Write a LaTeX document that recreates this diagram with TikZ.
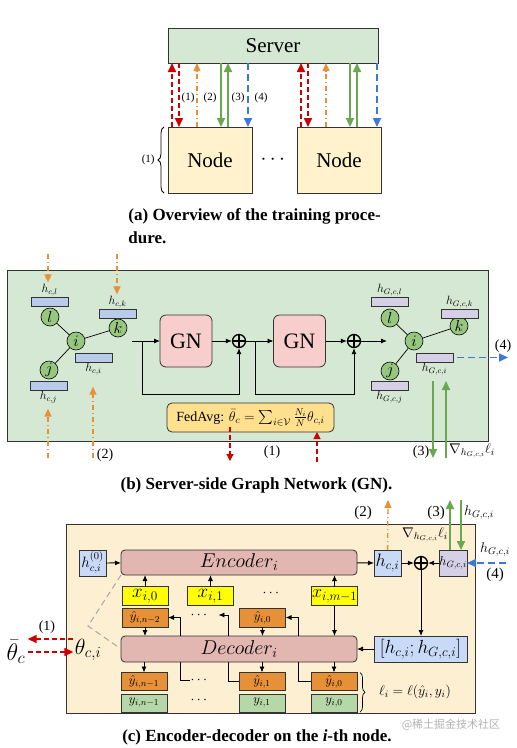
\RequirePackage{fix-cm}
\documentclass[tikz,border=0pt]{standalone}
\usepackage{amsmath}
\usepackage{amssymb}
\usepackage{fontspec}
\newfontfamily\timesf{Liberation Serif}
\newfontfamily\cjkf{Noto Sans CJK SC}
\usepackage{tikz}
\usetikzlibrary{calc, arrows.meta, positioning, decorations.pathreplacing}

\definecolor{srvgreen}{HTML}{D5E8D4}
\definecolor{nodeyel}{HTML}{FFF2CC}
\definecolor{gnpink}{HTML}{F8CECC}
\definecolor{fedyel}{HTML}{FFE08F}
\definecolor{circgreen}{HTML}{97C77E}
\definecolor{hblue}{HTML}{B9CBEB}
\definecolor{hlav}{HTML}{D6D0E6}
\definecolor{edbg}{HTML}{FDF0D2}
\definecolor{edpink}{HTML}{E2B6B1}
\definecolor{boxblue}{HTML}{C9DAF8}
\definecolor{xyel}{HTML}{FFFF00}
\definecolor{yhor}{HTML}{E69138}
\definecolor{ygr}{HTML}{B6D7A8}
\definecolor{myred}{HTML}{CC0000}
\definecolor{myor}{HTML}{E69138}
\definecolor{mygr}{HTML}{6AA84F}
\definecolor{myblue}{HTML}{3C78D8}

\newcommand{\fsz}[1]{\fontsize{#1}{#1}\selectfont}

\begin{document}
\begin{tikzpicture}[x=1pt, y=-1pt, >={Latex[length=6pt,width=5pt]}, line width=0.9pt]
	\tikzstyle{box} = [draw=black!80, line width=0.8pt, inner sep=0pt, outer sep=0pt]
	\tikzstyle{srvbox} = [box, fill=srvgreen, minimum width=210pt, minimum height=35pt, font=\timesf\fsz{21}]
	\tikzstyle{nodebox} = [box, fill=nodeyel, minimum width=84pt, minimum height=66pt, font=\timesf\fsz{21}]
	\tikzstyle{lbl} = [inner sep=0pt, font=\timesf\fsz{11}]
	\tikzstyle{lbltwo} = [inner sep=0pt, font=\timesf\fsz{14}]
	\tikzstyle{captxt} = [inner sep=0pt, font=\timesf\bfseries\fsz{17}]
	\tikzstyle{redar} = [draw=myred, line width=1.6pt, dash pattern=on 5pt off 3pt, -{Triangle[length=9pt,width=8pt]}]
	\tikzstyle{orar} = [draw=myor, line width=1.3pt, dash pattern=on 5pt off 3pt on 1pt off 3pt, -{Triangle[length=8pt,width=7pt]}]
	\tikzstyle{grar} = [draw=mygr, line width=1.8pt, -{Triangle[length=9pt,width=8pt]}]
	\tikzstyle{blar} = [draw=myblue, line width=1.6pt, dash pattern=on 7pt off 4pt, -{Triangle[length=9pt,width=8pt]}]
	\tikzstyle{gnode} = [draw=black, line width=0.6pt, circle, fill=circgreen, minimum size=18pt, inner sep=0pt, font=\fsz{16}]
	\tikzstyle{cbar} = [box, fill=hblue, minimum width=37pt, minimum height=9pt]
	\tikzstyle{gbar} = [box, fill=hlav, minimum width=37pt, minimum height=9pt]
	\tikzstyle{hlbl} = [inner sep=1pt, font=\fsz{12}]
	\tikzstyle{gn} = [box, rounded corners=6pt, fill=gnpink, minimum width=52pt, minimum height=52pt, font=\timesf\fsz{22}]
	\tikzstyle{oplus} = [draw, circle, line width=1.3pt, minimum size=13pt, inner sep=0pt, path picture={\draw[line width=1.3pt] (path picture bounding box.north) -- (path picture bounding box.south) (path picture bounding box.west) -- (path picture bounding box.east);}]
	\tikzstyle{fed} = [box, rounded corners=5pt, fill=fedyel, minimum width=167pt, minimum height=29pt, font=\timesf\fsz{14}]
	\tikzstyle{ed} = [box, rounded corners=4pt, fill=edpink, minimum width=236pt, minimum height=25pt, font=\fsz{20}]
	\tikzstyle{hb} = [box, fill=boxblue, minimum width=27pt, minimum height=26pt]
	\tikzstyle{hl} = [box, fill=hlav, minimum width=28pt, minimum height=26pt]
	\tikzstyle{xbox} = [box, fill=xyel, minimum width=46pt, minimum height=19pt, font=\fsz{19}]
	\tikzstyle{yhb} = [box, fill=yhor, minimum width=46pt, minimum height=19pt, font=\fsz{13}]
	\tikzstyle{ybox} = [box, fill=ygr, minimum width=46pt, minimum height=18pt, font=\fsz{13}]
	\tikzstyle{dotsn} = [inner sep=0pt, font=\fsz{14}]
	\tikzstyle{mth} = [inner sep=1pt, font=\fsz{14}]

	\useasboundingbox (0,0) rectangle (517,748);

	% (a) overview
	\node[srvbox] at (273,45.5) (server) {Server};
	\node[nodebox] at (210,160) (nodeL) {Node};
	\node[nodebox] at (339,160) (nodeR) {Node};
	\node[dotsn, font=\fsz{21}] at (274.5,160) (ndots) {$\cdots$};
	\foreach \n in {nodeL, nodeR} {
		\path (\n.north west) ++(4,0) coordinate (\n-ra) ++(7,0) coordinate (\n-rb)
			++(18,0) coordinate (\n-o) ++(24,0) coordinate (\n-ga) ++(7,0) coordinate (\n-gb)
			++(20,0) coordinate (\n-b);
		\draw[redar] (\n-ra) -- (\n-ra |- server.south);
		\draw[redar] (\n-rb |- server.south) -- (\n-rb);
		\draw[orar] (\n-o) -- (\n-o |- server.south);
		\draw[grar] (\n-ga |- server.south) -- (\n-ga);
		\draw[grar] (\n-gb) -- (\n-gb |- server.south);
		\draw[blar] (\n-b |- server.south) -- (\n-b);
	}
	\node[lbl] at (188,98) (la1) {(1)};
	\node[lbl] at (210,98) (la2) {(2)};
	\node[lbl] at (238,98) (la3) {(3)};
	\node[lbl] at (261,98) (la4) {(4)};
	\draw[decorate, decoration={brace, amplitude=6pt}, line width=0.8pt]
		([xshift=-4pt]nodeL.south west) -- ([xshift=-4pt]nodeL.north west)
		node[lbl, midway, left=9pt] (labr) {(1)};
	\node[captxt, anchor=west] at (128,216) (capa) {(a) Overview of the training proce-};
	\node[captxt, anchor=west] at (128,238) (capaa) {dure.};

	% (b) server-side graph network
	\draw[box, fill=srvgreen] (7,270) rectangle (488,441);
	\node[gnode] at (50,317) (l1) {$l$};
	\node[gnode] at (76,341) (i1) {$i$};
	\node[gnode] at (118,328) (k1) {$k$};
	\node[gnode] at (49,370) (j1) {$j$};
	\draw[line width=0.7pt] (i1) -- (l1) (i1) -- (k1) (i1) -- (j1);
	\node[cbar] at (49.5,301.5) (bl1) {};
	\node[hlbl, above=0pt of bl1] (tl1) {$h_{c,l}$};
	\node[cbar] at (117.5,313.5) (bk1) {};
	\node[hlbl, above=0pt of bk1] (tk1) {$h_{c,k}$};
	\node[cbar] at (93.5,357.5) (bi1) {};
	\node[hlbl, below=0pt of bi1] (ti1) {$h_{c,i}$};
	\node[cbar] at (48.5,385.5) (bj1) {};
	\node[hlbl, below=0pt of bj1] (tj1) {$h_{c,j}$};
	\coordinate (ol) at (48,254);
	\coordinate (ok) at (117,254);
	\coordinate (oj) at (48,458);
	\coordinate (oi) at (93,458);
	\draw[orar] (ol) -- (ol |- tl1.north);
	\draw[orar] (ok) -- (ok |- tk1.north);
	\draw[orar, shorten >=4pt] (oj) -- (oj |- tj1.south);
	\draw[orar, shorten >=10pt] (oi) -- (oi |- ti1.south);
	\node[lbltwo] at (105,455) (lb2) {(2)};

	\coordinate (gin) at (132,341);
	\node[gn] at (186,341) (gn1) {GN};
	\node[oplus] at (239,341) (op1) {};
	\node[gn] at (299.5,341) (gn2) {GN};
	\node[oplus] at (354,341) (op2) {};
	\coordinate (gout) at (387,341);
	\coordinate (sk1) at (142,341);
	\coordinate (sk2) at (255,341);
	\coordinate (low) at (0,394);
	\draw[->] (gin) -- (gn1);
	\draw[->] (gn1) -- (op1);
	\draw[->] (op1) -- (gn2);
	\draw[->] (gn2) -- (op2);
	\draw[->] (op2) -- (gout);
	\draw[->] (sk1) |- (low -| op1) -- (op1);
	\draw[->] (sk2) |- (low -| op2) -- (op2);

	\node[gnode] at (390,318) (l2) {$l$};
	\node[gnode] at (414,341) (i2) {$i$};
	\node[gnode] at (459,326) (k2) {$k$};
	\node[gnode] at (390,371) (j2) {$j$};
	\draw[line width=0.7pt] (i2) -- (l2) (i2) -- (k2) (i2) -- (j2);
	\node[gbar] at (389.5,301.5) (bl2) {};
	\node[hlbl, above=0pt of bl2] (tl2) {$h_{G,c,l}$};
	\node[gbar] at (459.5,313.5) (bk2) {};
	\node[hlbl, above=0pt of bk2] (tk2) {$h_{G,c,k}$};
	\node[gbar] at (434.5,357.5) (bi2) {};
	\node[hlbl, below=0pt of bi2] (ti2) {$h_{G,c,i}$};
	\node[gbar] at (389.5,385.5) (bj2) {};
	\node[hlbl, below=0pt of bj2] (tj2) {$h_{G,c,j}$};
	\coordinate (bo4) at (508,357.5);
	\draw[blar, shorten <=4pt] (bi2) -- (bo4);
	\node[lbltwo] at (503,346) (lb4) {(4)};
	\coordinate (ga) at (433,381);
	\coordinate (gb) at (433,458);
	\coordinate (gc) at (446,458);
	\coordinate (gd) at (446,381);
	\draw[grar] (ga) -- (gb);
	\draw[grar] (gc) -- (gd);
	\node[lbltwo] at (421,452) (lb3) {(3)};
	\node[mth] at (472,451) (gradb) {$\nabla_{h_{G,c,i}}\ell_i$};

	\node[fed] at (250.5,417.5) (fedavg) {FedAvg: $\bar\theta_c=\sum_{i\in\mathcal{V}}\frac{N_i}{N}\theta_{c,i}$};
	\coordinate (fa) at (230,427);
	\coordinate (fb) at (230,461);
	\coordinate (fc) at (317,462);
	\draw[redar, line width=1.2pt, -{Triangle[length=7pt,width=7pt]}] (fa) -- (fb);
	\draw[redar, line width=1.2pt, -{Triangle[length=7pt,width=7pt]}] (fc) -- (fc |- fedavg.south);
	\node[lbltwo] at (272,452) (lb1) {(1)};
	\node[captxt] at (256.5,485) (capb) {(b) Server-side Graph Network (GN).};

	% (c) encoder-decoder on a node
	\draw[box, fill=edbg] (66,524) rectangle (475,713);
	\node[ed] at (239,562.5) (enc) {$Encoder_i$};
	\node[ed, minimum height=26pt] at (239,649) (dec) {$Decoder_i$};
	\node[hb, font=\fsz{15}] at (92.5,563) (hzero) {$h^{(0)}_{c,i}$};
	\node[xbox] at (145,596) (xa) {$x_{i,0}$};
	\node[xbox] at (210.5,596) (xo) {$x_{i,1}$};
	\node[dotsn] at (272,593) (xdots) {$\cdots$};
	\node[xbox, font=\fsz{18}] at (334.5,596) (xm) {$x_{i,m-1}$};
	\node[yhb] at (145,617.5) (yn) {$\hat y_{i,n-2}$};
	\node[dotsn, minimum width=36pt] at (200,615) (ydots) {$\cdots$};
	\node[yhb] at (262.5,617.5) (yz) {$\hat y_{i,0}$};
	\node[yhb, minimum height=18pt] at (144,681.5) (pn) {$\hat y_{i,n-1}$};
	\node[dotsn, minimum width=16pt] at (200,680) (pdots) {$\cdots$};
	\node[yhb, minimum height=18pt] at (262,681.5) (po) {$\hat y_{i,1}$};
	\node[yhb, minimum height=18pt] at (334,681.5) (pz) {$\hat y_{i,0}$};
	\node[ybox] at (144,703) (tn) {$y_{i,n-1}$};
	\node[dotsn] at (200,700) (tdots) {$\cdots$};
	\node[ybox] at (262,703) (tone) {$y_{i,1}$};
	\node[ybox] at (334,703) (tz) {$y_{i,0}$};
	\node[hb, font=\fsz{18}] at (387.5,563) (hci) {$h_{c,i}$};
	\node[oplus] at (421,563) (opc) {};
	\node[hl, font=\fsz{13}] at (453,563) (hgci) {$h_{G,c,i}$};
	\node[hb, minimum width=93pt, font=\fsz{19}] at (420.5,649) (hcat) {$[h_{c,i};h_{G,c,i}]$};

	\draw[->] (hzero) -- (enc);
	\draw[->] (xa) -- (xa |- enc.south);
	\draw[->] (xo) -- (xo |- enc.south);
	\draw[->] (xm) -- (xm |- enc.south);
	\draw[->] (xm) -- (xm |- dec.north);
	\draw[->] (yn) -- (yn |- dec.north);
	\draw[->] (yz) -- (yz |- dec.north);
	\coordinate (fba) at (180,0);
	\coordinate (fbb) at (228,0);
	\coordinate (fbc) at (298,0);
	\draw[->] (fba |- dec.north) |- (yn.east);
	\draw[->] (fbb |- dec.north) |- (ydots.east);
	\draw[->] (fbc |- dec.north) |- (yz.east);
	\draw[->] (pn |- dec.south) -- (pn);
	\draw[->] (po |- dec.south) -- (po);
	\draw[->] (pz |- dec.south) -- (pz);
	\draw (fba |- dec.south) |- (pdots.west);
	\draw (fbb |- dec.south) |- (po.west);
	\draw (fbc |- dec.south) |- (pz.west);
	\draw[->] (enc) -- (hci);
	\draw[->] (hci) -- (opc);
	\draw[->] (hgci) -- (opc);
	\draw[->] (opc) -- (opc |- hcat.north);
	\draw[->] (hcat) -- (dec);
	\draw[decorate, decoration={brace, amplitude=5pt}, line width=0.7pt]
		([xshift=3pt]pz.north east) -- ([xshift=3pt]tz.south east);
	\node[mth] at (415,692) (loss) {$\ell_i=\ell(\hat y_i,y_i)$};

	\coordinate (ctwo) at (388,500);
	\coordinate (cup) at (450,500);
	\coordinate (cdn) at (461,500);
	\coordinate (cfour) at (506,563);
	\draw[orar] (hci) -- (ctwo);
	\draw[grar] (cup |- hgci.north) -- (cup);
	\draw[grar] (cdn) -- (cdn |- hgci.north);
	\draw[blar] (cfour) -- (hgci);
	\node[lbltwo, font=\timesf\fsz{15}] at (363,513) (lc2) {(2)};
	\node[lbltwo, font=\timesf\fsz{15}] at (436,513) (lc3) {(3)};
	\node[mth] at (479,513) (hup) {$h_{G,c,i}$};
	\node[mth] at (425,535) (gradc) {$\nabla_{h_{G,c,i}}\ell_i$};
	\node[mth] at (495,550) (hin) {$h_{G,c,i}$};
	\node[lbltwo, font=\timesf\fsz{15}] at (495,575) (lc4) {(4)};

	\node[inner sep=1pt, font=\fsz{22}] at (88,650) (thci) {$\theta_{c,i}$};
	\node[inner sep=2pt, font=\fsz{24}] at (16,652) (thbar) {$\bar\theta_c$};
	\draw[redar, line width=1.4pt] ([yshift=11pt]thci.west) -- ([yshift=13pt]thbar.east);
	\draw[redar, line width=1.4pt] ([yshift=0pt]thbar.east) -- ([yshift=-2pt]thci.west);
	\node[lbltwo] at (47,627) (lc1) {(1)};
	\coordinate (tv) at (88,626);
	\draw[black!35, dash pattern=on 6pt off 4pt, line width=1pt] (enc.south west) -- (tv) -- (dec.west);

	\node[captxt] at (257,737) (capc) {(c) Encoder-decoder on the \textit{i}-th node.};
	\node[inner sep=0pt, font=\cjkf\fsz{11}, text=black!30] at (451,725) (wm) {@稀土掘金技术社区};
\end{tikzpicture}
\end{document}
